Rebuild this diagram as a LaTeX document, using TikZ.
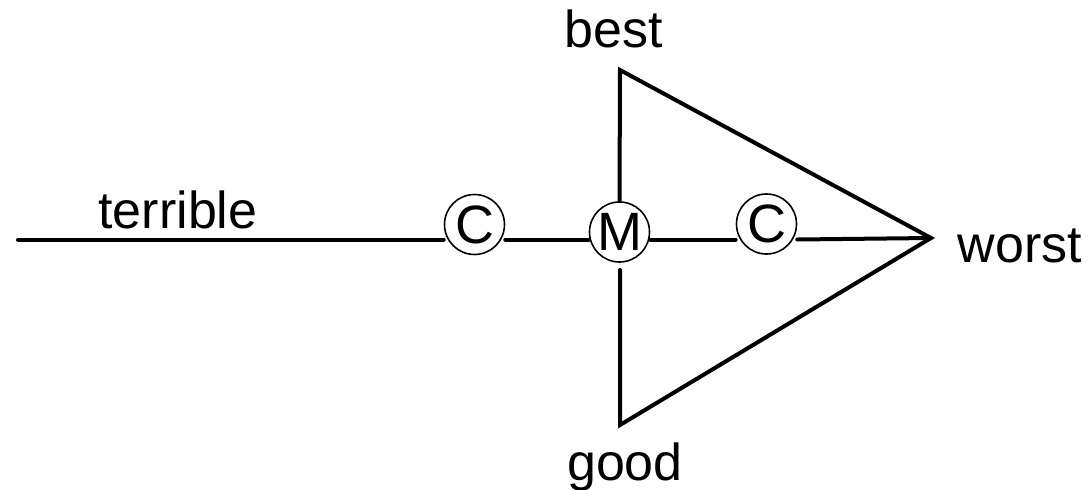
\documentclass[tikz,border=0pt]{standalone}
\usepackage{fontspec}
\setmainfont{Liberation Sans}
\begin{document}
\begin{tikzpicture}[x=1pt,y=-1pt,
  wire/.style={line width=4pt,line cap=round,line join=miter},
  ring/.style={circle,draw,line width=1.6pt,minimum size=60pt,inner sep=0pt,font=\fontsize{54}{54}\selectfont},
  lab/.style={anchor=base,inner sep=0pt,font=\fontsize{52}{52}\selectfont}]
\useasboundingbox (0,0) rectangle (1088,490);
% circled nodes
\node[ring] (c1) at (474.5,224.5) {C};
\node[ring] (m) at (619.5,232) {M};
\node[ring] (c2) at (766.5,224) {C};
% key points
\coordinate (start) at (18,239.5);
\coordinate (top) at (620,70);
\coordinate (tip) at (931,238);
\coordinate (bot) at (620,425);
\coordinate (mlow) at (620,270);
% labels
\node[lab] (best) at (614,47) {best};
\node[lab] (terrible) at (178,228) {terrible};
\node[lab] (worst) at (1020,262) {worst};
\node[lab] (good) at (625,480) {good};
% main line segments
\draw[wire] (start) -- (start -| c1.west);
\draw[wire] (start -| c1.east) -- (start -| m.west);
\draw[wire] (start -| m.east) -- (start -| c2.west);
\draw[wire] (start -| c2.east) -- (tip);
% triangle
\draw[wire] (m.north) -- (top) -- (tip) -- (bot) -- (mlow);
\end{tikzpicture}
\end{document}
